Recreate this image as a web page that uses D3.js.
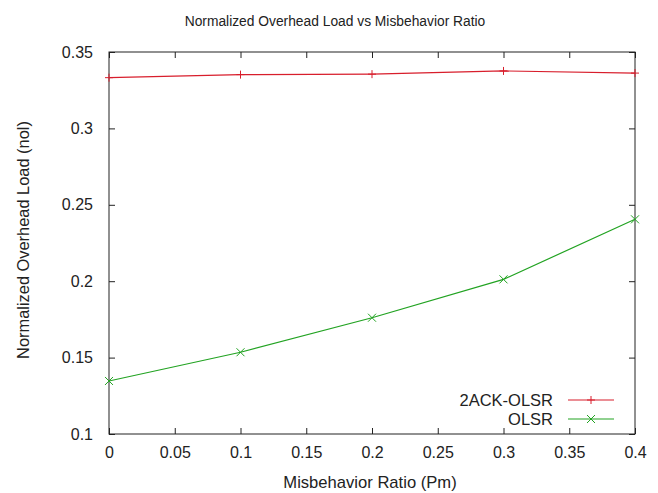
<!DOCTYPE html>
<html>
<head>
<meta charset="utf-8">
<script src="https://cdn.jsdelivr.net/npm/d3@7"></script>
<style>
  html, body { margin: 0; padding: 0; background: #fff; }
  text { font-family: "Liberation Sans", Arial, sans-serif; fill: #222; }
</style>
</head>
<body>
<svg id="chart" width="658" height="493"></svg>
<script>
// Misbehavior ratio (Pm) sampled on the x axis
const ratios = [0, 0.1, 0.2, 0.3, 0.4];
// Normalized overhead load per scheme
const ackOlsr = [0.3332, 0.3352, 0.3355, 0.3376, 0.3362];
const olsr = [0.1347, 0.1535, 0.1761, 0.2012, 0.2405];
const seriesNames = ["2ACK-OLSR", "OLSR"];
const xTicks = [0, 0.05, 0.1, 0.15, 0.2, 0.25, 0.3, 0.35, 0.4];
const yTicks = [0.1, 0.15, 0.2, 0.25, 0.3, 0.35];

const svg = d3.select("#chart");
const plotL = 109, plotR = 635, plotT = 52, plotB = 434;

const x = d3.scaleLinear().domain([0, 0.4]).range([plotL, plotR]);
const y = d3.scaleLinear().domain([0.1, 0.35]).range([plotB, plotT]);
const fmt = d => String(+d.toFixed(2));

// Frame
svg.append("rect")
  .attr("x", plotL).attr("y", plotT)
  .attr("width", plotR - plotL).attr("height", plotB - plotT)
  .attr("fill", "none").attr("stroke", "#222").attr("stroke-width", 1);

// Axes with inward ticks on all four sides
const tl = 6;
const bx = svg.append("g").attr("transform", `translate(0,${plotB})`)
  .call(d3.axisBottom(x).tickValues(xTicks).tickFormat(fmt).tickSize(-tl).tickPadding(13));
const tx = svg.append("g").attr("transform", `translate(0,${plotT})`)
  .call(d3.axisTop(x).tickValues(xTicks).tickFormat("").tickSize(-tl));
const ly = svg.append("g").attr("transform", `translate(${plotL},0)`)
  .call(d3.axisLeft(y).tickValues(yTicks).tickFormat(fmt).tickSize(-tl).tickPadding(16));
const ry = svg.append("g").attr("transform", `translate(${plotR},0)`)
  .call(d3.axisRight(y).tickValues(yTicks).tickFormat("").tickSize(-tl));
[bx, tx, ly, ry].forEach(g => {
  g.select(".domain").remove();
  g.selectAll(".tick line").attr("stroke", "#222");
  g.selectAll(".tick text").attr("font-size", 16).attr("fill", "#222")
    .attr("font-family", "Liberation Sans, Arial, sans-serif");
});

// Title and axis labels
svg.append("text").attr("x", 335).attr("y", 26).attr("text-anchor", "middle")
  .attr("font-size", 13.8).text("Normalized Overhead Load vs Misbehavior Ratio");
svg.append("text").attr("x", 370).attr("y", 488).attr("text-anchor", "middle")
  .attr("font-size", 16.6).text("Misbehavior Ratio (Pm)");
svg.append("text").attr("transform", `translate(29,240) rotate(-90)`)
  .attr("text-anchor", "middle").attr("font-size", 16.4).text("Normalized Overhead Load (nol)");

const colors = ["#d81e2c", "#22a322"];
const data = [ackOlsr, olsr];
const line = d3.line().x((d, i) => x(ratios[i])).y(d => y(d));

function plusMarker(g, cx, cy, c) {
  g.append("path").attr("d", `M${cx - 4},${cy}H${cx + 4}M${cx},${cy - 4}V${cy + 4}`)
    .attr("stroke", c).attr("stroke-width", 1).attr("fill", "none");
}
function crossMarker(g, cx, cy, c) {
  g.append("path").attr("d", `M${cx - 4},${cy - 4}L${cx + 4},${cy + 4}M${cx - 4},${cy + 4}L${cx + 4},${cy - 4}`)
    .attr("stroke", c).attr("stroke-width", 1).attr("fill", "none");
}
const markers = [plusMarker, crossMarker];

data.forEach((vals, s) => {
  const g = svg.append("g");
  g.append("path").datum(vals).attr("d", line)
    .attr("fill", "none").attr("stroke", colors[s]).attr("stroke-width", 1.2);
  vals.forEach((v, i) => markers[s](g, x(ratios[i]), y(v), colors[s]));
});

// Legend
seriesNames.forEach((name, s) => {
  const ly0 = 400 + s * 19;
  svg.append("text").attr("x", 553).attr("y", ly0 + 5.5).attr("text-anchor", "end")
    .attr("font-size", 16.5).text(name);
  svg.append("line").attr("x1", 568).attr("x2", 614).attr("y1", ly0).attr("y2", ly0)
    .attr("stroke", colors[s]).attr("stroke-width", 1.2);
  markers[s](svg, 591, ly0, colors[s]);
});
</script>
</body>
</html>
